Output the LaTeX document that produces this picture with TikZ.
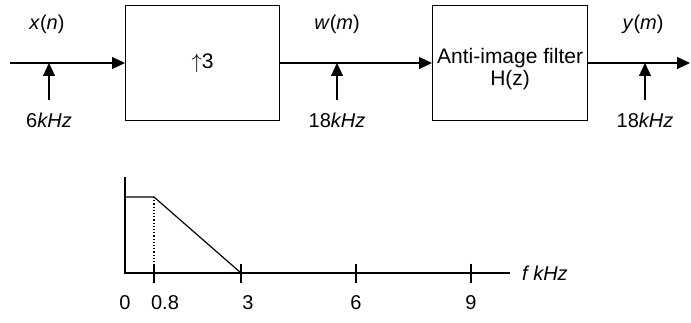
\documentclass[tikz,border=0pt]{standalone}
\usepackage{fontspec}
\setmainfont{Liberation Sans}
\usetikzlibrary{arrows.meta}
\begin{document}
\begin{tikzpicture}[x=1pt,y=-1pt,
  lw/.style={line width=1.2pt},
  arr/.style={lw,-{Triangle[length=13pt,width=12pt]}},
  blk/.style={draw,lw,minimum width=154pt,minimum height=115pt,inner sep=0pt,anchor=north west},
  lab/.style={font=\fontsize{20}{23}\selectfont,inner sep=0pt},
  txt/.style={font=\fontsize{21}{24}\selectfont,inner sep=0pt,align=center}]
\useasboundingbox (0,0) rectangle (691,323);
% blocks
\node[blk] (up) at (125,5) {};
\node[txt] at (up.center) {$\uparrow$3};
\node[blk,minimum width=155pt] (flt) at (432,5) {};
\node[txt] at ([yshift=-6pt]flt.center) {Anti-image filter\\[-2pt]H(z)};
% main line
\coordinate (in) at (10,63);
\coordinate (out) at (690,63);
\draw[arr] (in) -- (in -| up.west);
\draw[arr] (in -| up.east) -- (in -| flt.west);
\draw[arr] (in -| flt.east) -- (out);
% rate markers
\coordinate (a1) at (49,100); \coordinate (t1) at (49,63);
\coordinate (a2) at (337,100); \coordinate (t2) at (337,63);
\coordinate (a3) at (645,100); \coordinate (t3) at (645,63);
\draw[arr] (a1) -- (t1);
\draw[arr] (a2) -- (t2);
\draw[arr] (a3) -- (t3);
\node[lab] (xn) at (47,24) {\textit{x}(\textit{n})};
\node[lab] (wm) at (337,24) {\textit{w}(\textit{m})};
\node[lab] (ym) at (643,24) {\textit{y}(\textit{m})};
\node[lab] (f1) at (49,120) {6\textit{kHz}};
\node[lab] (f2) at (337,120) {18\textit{kHz}};
\node[lab] (f3) at (645,120) {18\textit{kHz}};
% spectrum
\coordinate (o) at (125,273);
\coordinate (vt) at (125,177);
\coordinate (xe) at (510,273);
\coordinate (p0) at (125,197);
\coordinate (p1) at (154,197);
\coordinate (p3) at (241,273);
\draw[lw] (vt) -- (o) -- (xe);
\draw[lw] (p0) -- (p1) -- (p3);
\draw[lw,dotted] (p1) -- (154,273);
\foreach \x in {154,241,356,471} \draw[lw] (\x,264) -- (\x,283);
\node[lab] at (125,303) {0};
\node[lab] at (165,303) {0.8};
\node[lab] at (248,303) {3};
\node[lab] at (356,303) {6};
\node[lab] at (471,303) {9};
\node[lab,anchor=west] at (522,273) {\textit{f kHz}};
\end{tikzpicture}
\end{document}
